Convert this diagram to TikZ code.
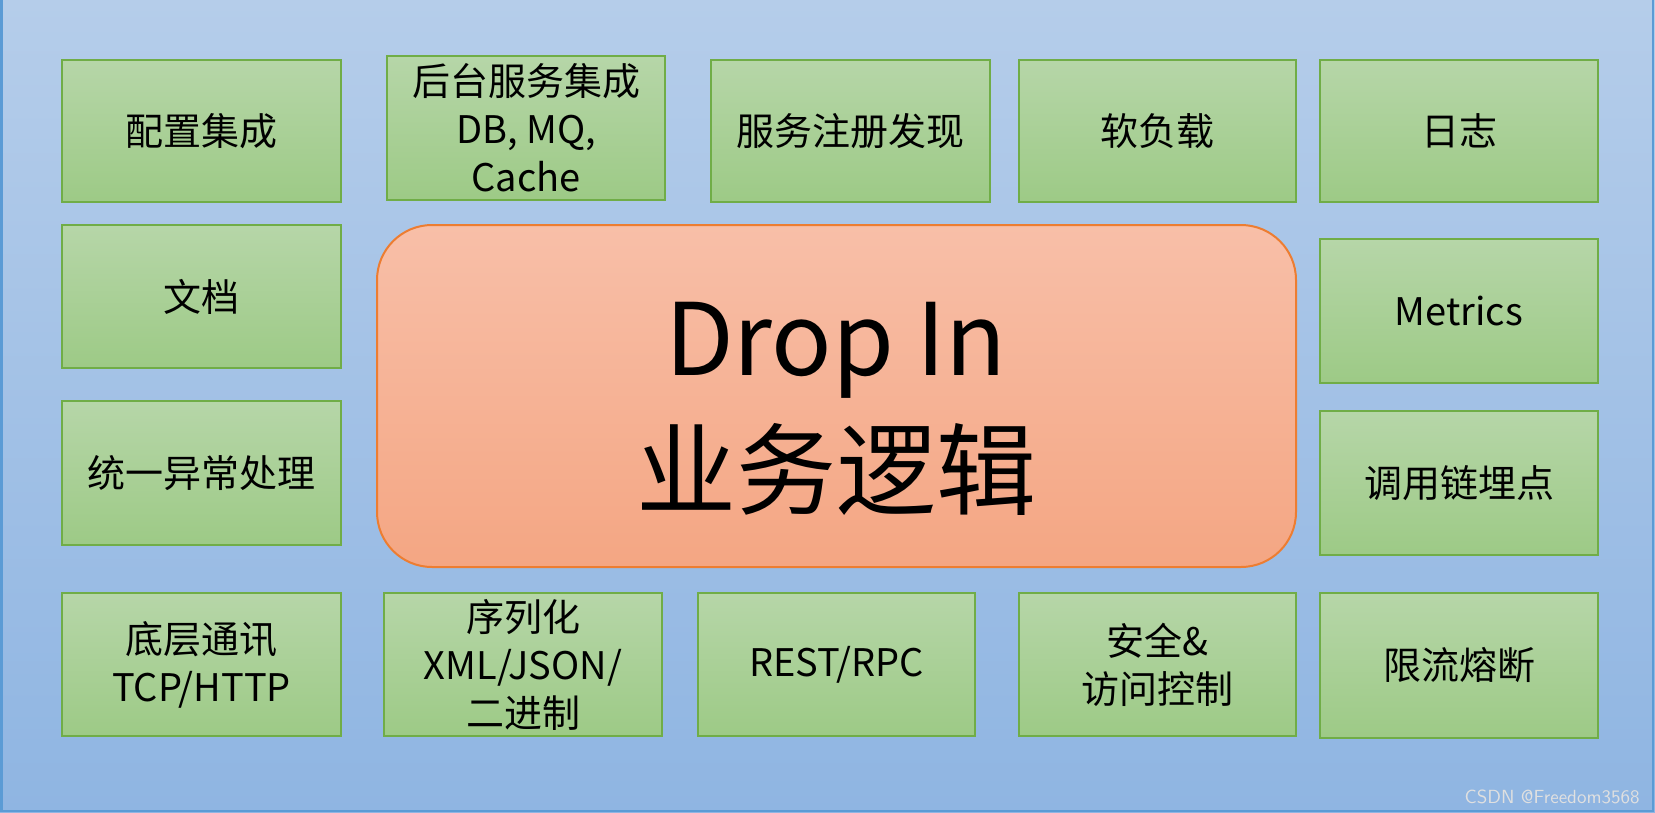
\documentclass[tikz,border=0pt]{standalone}
\usepackage{fontspec}
\newfontfamily\cjk{Noto Sans CJK SC}
\definecolor{bgtop}{RGB}{181,205,234}
\definecolor{bgbot}{RGB}{143,181,226}
\definecolor{bgedge}{RGB}{91,155,213}
\definecolor{gtop}{RGB}{182,214,168}
\definecolor{gbot}{RGB}{157,202,134}
\definecolor{gedge}{RGB}{112,173,71}
\definecolor{otop}{RGB}{248,191,168}
\definecolor{obot}{RGB}{244,166,131}
\definecolor{oedge}{RGB}{237,125,49}
\begin{document}
\begin{tikzpicture}[x=0.5pt,y=-0.5pt,
  gbox/.style={draw=gedge, line width=1pt, top color=gtop, bottom color=gbot,
    inner sep=0pt, align=center, text=black,
    font=\cjk\fontsize{19}{24}\selectfont},
  wh/.style 2 args={minimum width=#1*0.5pt, minimum height=#2*0.5pt},
  bigtxt/.style={anchor=base, inner sep=0pt, font=\cjk\fontsize{50}{60}\selectfont, text=black}
]
\useasboundingbox (0,0) rectangle (1655,813);
\shade[top color=bgtop, bottom color=bgbot] (0,0) rectangle (1655,813);
\draw[bgedge, line width=1.2pt] (1.5,0) -- (1.5,811) -- (1653,811) -- (1653,0);

% top row
\node[gbox, wh={279}{142}] (b1) at (201.5,131) {配置集成};
\node[gbox, wh={278}{144}] (b2) at (526,128) {后台服务集成\\DB, MQ,\\Cache};
\node[gbox, wh={279}{142}] (b3) at (850.5,131) {服务注册发现};
\node[gbox, wh={277}{142}] (b4) at (1157.5,131) {软负载};
\node[gbox, wh={278}{142}] (b5) at (1459,131) {日志};
% left column
\node[gbox, wh={279}{143}] (l1) at (201.5,296.5) {文档};
\node[gbox, wh={279}{144}] (l2) at (201.5,473) {统一异常处理};
% right column
\node[gbox, wh={278}{144}] (r1) at (1459,311) {Metrics};
\node[gbox, wh={278}{144}] (r2) at (1459,483) {调用链埋点};
% bottom row
\node[gbox, wh={279}{143}] (d1) at (201.5,664.5) {底层通讯\\TCP/HTTP};
\node[gbox, wh={278}{143}] (d2) at (523,664.5) {序列化\\XML/JSON/\\二进制};
\node[gbox, wh={277}{143}] (d3) at (836.5,664.5) {REST/RPC};
\node[gbox, wh={277}{143}] (d4) at (1157.5,664.5) {安全\&\\访问控制};
\node[gbox, wh={278}{145}] (d5) at (1459,665.5) {限流熔断};

% centre
\node[draw=oedge, line width=1pt, top color=otop, bottom color=obot,
  rounded corners=27.5pt, wh={919}{342}] (core) at (836.5,396) {};
\node[bigtxt] (drop) at (836,375) {Drop In};
\node[bigtxt] (biz) at (836,507) {业务逻辑};

% watermark
\node[anchor=east, inner sep=0pt, font=\sffamily\fontsize{9.5}{10}\selectfont, text=white!88!black] (wm) at (1640,797) {CSDN @Freedom3568};
\end{tikzpicture}
\end{document}
